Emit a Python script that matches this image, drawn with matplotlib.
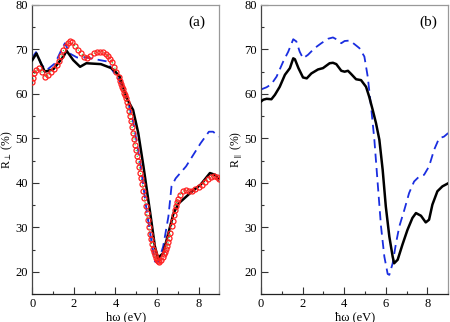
import numpy as np
import matplotlib
matplotlib.use("Agg")
import matplotlib.pyplot as plt
from matplotlib.ticker import MultipleLocator

plt.rcParams['font.family'] = ['Liberation Serif', 'DejaVu Serif']
plt.rcParams['mathtext.fontset'] = 'stix'

# Panel (a): R_perp
a_black_x = [0.0, 0.2, 0.6, 1.0, 1.5, 1.65, 1.97, 2.3, 2.6, 3.3, 3.8, 4.0, 4.2, 4.55, 4.85, 5.1, 5.35, 5.7, 5.9, 6.05,
             6.3, 6.55, 6.8, 7.05, 7.6, 8.1, 8.55, 8.8, 9.0]
a_black_y = [67.6, 69.1, 65.0, 65.5, 68.4, 69.7, 67.6, 66.1, 66.9, 66.7, 65.8, 65.0, 63.9, 59.0, 56.4, 51.2, 43.7, 32.4, 25.7, 23.1,
             24.2, 28.7, 33.2, 35.4, 37.7, 39.6, 42.2, 41.8, 40.7]

a_blue_x = [0.0, 0.18, 0.45, 0.7, 1.1, 1.4, 1.57, 1.8, 2.15, 2.6, 3.26, 3.6, 3.9, 4.22, 4.55, 4.87, 5.2, 5.5, 5.75, 5.9,
            6.07, 6.3, 6.55, 6.7, 6.9, 7.4, 8.1, 8.5, 8.7, 9.0]
a_blue_y = [68.2, 69.4, 66.5, 65.4, 66.9, 69.9, 71.4, 69.1, 68.2, 68.2, 67.6, 67.3, 65.0, 62.8, 59.4, 53.4, 44.4, 33.9, 26.4, 22.3,
            22.3, 25.7, 32.4, 39.2, 41.0, 43.7, 48.9, 51.5, 51.5, 50.4]

a_exp_x = [0.00, 0.05, 0.10, 0.20, 0.30, 0.45, 0.60, 0.75, 0.90, 1.05, 1.20, 1.30, 1.40, 1.50, 1.60, 1.70, 1.80, 1.90,
           2.05, 2.20, 2.35, 2.50, 2.65, 2.80, 2.95, 3.10, 3.25, 3.40, 3.55, 3.65, 3.75, 3.85, 3.95, 4.05, 4.15,
           4.20, 4.25, 4.30, 4.35, 4.40, 4.45, 4.50, 4.55, 4.60, 4.65, 4.70, 4.75, 4.80, 4.85, 4.90, 4.95, 5.00,
           5.05, 5.10, 5.15, 5.20, 5.25, 5.30, 5.35, 5.40, 5.45, 5.50, 5.55, 5.60, 5.65, 5.70, 5.75, 5.80, 5.85,
           5.90, 5.95, 6.00, 6.05, 6.10, 6.20, 6.30, 6.35, 6.40, 6.45, 6.50, 6.55, 6.60, 6.65, 6.70, 6.75, 6.80,
           6.85, 6.90, 6.95, 7.00, 7.10, 7.25, 7.40, 7.55, 7.70, 7.85, 8.00, 8.15, 8.30, 8.45, 8.60, 8.75, 8.90, 9.00]
a_exp_y = [62.6, 63.6, 64.6, 65.4, 65.8, 65.0, 63.9, 64.3, 65.0, 65.6, 66.5, 67.5, 68.6, 69.8, 70.7, 71.4, 71.8, 71.6,
           70.8, 69.9, 69.2, 68.4, 68.1, 68.6, 69.1, 69.4, 69.5, 69.4, 69.0, 68.5, 67.9, 67.1, 66.1, 65.0, 63.9,
           62.8, 62.2, 61.6, 61.0, 60.3, 59.7, 59.0, 58.2, 57.3, 56.2, 55.0, 53.8, 52.5, 51.1, 49.8, 48.5, 47.3,
           46.0, 44.8, 43.5, 42.3, 41.1, 39.8, 38.2, 36.5, 34.8, 33.2, 31.6, 30.0, 28.6, 27.3, 26.2, 25.2, 24.4,
           23.8, 23.2, 22.7, 22.4, 22.3, 22.6, 23.4, 23.9, 24.5, 25.1, 25.8, 26.6, 27.6, 28.8, 30.2, 31.5, 32.8,
           33.9, 34.8, 35.6, 36.3, 37.3, 38.1, 38.4, 38.2, 38.2, 38.6, 39.1, 39.6, 40.2, 40.9, 41.4, 41.6, 41.4, 40.8]

# Panel (b): R_parallel
b_black_x = [0.0, 0.11, 0.27, 0.5, 0.67, 0.9, 1.15, 1.39, 1.55, 1.63, 1.8, 2.02, 2.2, 2.42, 2.74, 2.98, 3.3, 3.46, 3.62,
             3.86, 4.02, 4.18, 4.33, 4.57, 4.81, 5.05, 5.2, 5.37, 5.53, 5.69, 5.85, 6.0, 6.17, 6.33, 6.4, 6.57, 6.8,
             7.04, 7.28, 7.45, 7.69, 7.92, 8.08, 8.24, 8.48, 8.72, 9.0]
b_black_y = [58.3, 58.7, 58.9, 58.8, 59.8, 61.6, 64.3, 65.8, 68.0, 67.8, 65.8, 63.7, 63.5, 64.6, 65.5, 65.8, 66.9, 67.0, 66.7,
             65.2, 65.0, 65.2, 64.5, 63.3, 63.1, 61.6, 59.4, 56.4, 53.4, 49.7, 42.9, 34.7, 27.9, 23.4, 21.9, 22.7, 26.1,
             29.4, 32.1, 33.2, 32.6, 31.1, 31.7, 35.1, 38.1, 39.2, 39.9]

b_blue_x = [0.0, 0.27, 0.5, 0.75, 1.07, 1.31, 1.55, 1.7, 1.86, 2.02, 2.26, 2.58, 2.9, 3.22, 3.46, 3.7, 3.86, 4.02, 4.26,
            4.49, 4.73, 4.97, 5.13, 5.29, 5.45, 5.61, 5.77, 5.93, 6.09, 6.17, 6.33, 6.49, 6.65, 6.89, 7.12, 7.36, 7.6,
            7.84, 8.08, 8.32, 8.56, 8.8, 9.0]
b_blue_y = [61.0, 61.5, 62.2, 63.9, 67.3, 69.5, 72.3, 71.8, 69.5, 68.0, 68.8, 70.3, 71.4, 72.4, 72.7, 72.1, 71.4, 71.9, 72.0,
            71.2, 70.3, 68.4, 63.9, 57.2, 49.7, 39.9, 30.2, 23.4, 19.5, 19.3, 21.9, 26.4, 30.2, 33.9, 37.7, 40.3, 41.4,
            41.8, 43.7, 47.4, 50.0, 50.4, 51.2]

xticks = [0, 2, 4, 6, 8]
yticks = [20, 30, 40, 50, 60, 70, 80]

fig = plt.figure(figsize=(4.5, 3.22), dpi=100)
axa = fig.add_axes([0.0718, 0.087, 0.4155, 0.8975])
axb = fig.add_axes([0.580, 0.087, 0.416, 0.8975])


def style(ax, xlabel, ylabel, tag, tagx):
    ax.set_xlim(0, 9)
    ax.set_ylim(15, 80)
    ax.set_xticks(xticks)
    ax.set_yticks(yticks)
    ax.xaxis.set_minor_locator(MultipleLocator(1))
    ax.yaxis.set_minor_locator(MultipleLocator(5))
    ax.tick_params(which='both', direction='in', top=False, right=False, labelsize=9, colors='#333333', pad=3)
    ax.tick_params(which='major', length=5, width=0.8)
    ax.tick_params(which='minor', length=2.5, width=0.8)
    for lab in ax.get_xticklabels() + ax.get_yticklabels():
        lab.set_color('black')
    ax.spines['left'].set_color('#444444')
    ax.spines['bottom'].set_color('#222222')
    ax.spines['top'].set_color('#999999')
    ax.spines['right'].set_color('#999999')
    for s in ax.spines.values():
        s.set_linewidth(0.9)
    ax.set_xlabel(xlabel, fontsize=9, labelpad=1)
    ax.set_ylabel(ylabel, fontsize=8.5, va='center')
    ax.yaxis.set_label_coords(-0.132, 0.5)
    ax.text(tagx, 0.94, tag, transform=ax.transAxes, fontsize=11, ha='right', va='center')


axa.plot(a_exp_x, a_exp_y, color='#22cc22', lw=0.8, ls=':', zorder=1)
axa.plot(a_blue_x, a_blue_y, color='#1a2ee0', lw=1.3, ls=(0, (5, 3)), zorder=2)
axa.plot(a_black_x, a_black_y, color='black', lw=1.8, zorder=3)
axa.plot(a_exp_x, a_exp_y, ls='none', marker='o', ms=3.6, mfc='none', mec='#ff2020', mew=0.9, zorder=4)
style(axa, 'h\u03c9 (eV)', r'R$_\perp$ (%)', '(a)', 0.925)

axb.plot(b_blue_x, b_blue_y, color='#1a2ee0', lw=1.3, ls=(0, (5, 3)), zorder=2)
axb.plot(b_black_x, b_black_y, color='black', lw=1.8, zorder=3)
style(axb, '\u0127\u03c9 (eV)', r'R$_\parallel$ (%)', '(b)', 0.94)

fig.savefig('out.png', dpi=100)
